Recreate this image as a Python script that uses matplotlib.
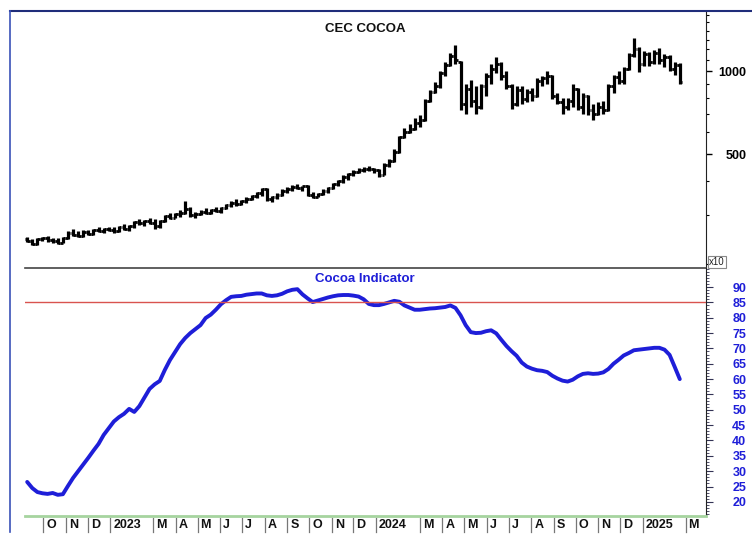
import matplotlib
matplotlib.use('Agg')
import matplotlib.pyplot as plt
import matplotlib.dates as mdates
import matplotlib.transforms as mtrans
from matplotlib.lines import Line2D
from matplotlib.ticker import FixedLocator, FixedFormatter, NullFormatter, MultipleLocator
import pandas as pd

plt.rcParams['font.family'] = ['Liberation Sans', 'DejaVu Sans']

# weekly bars, values in x10 units
weeks = pd.date_range('2022-09-09', periods=129, freq='W-FRI')

opens = [246, 242, 236, 246, 248, 244, 241, 238, 248, 258, 255, 253, 261, 257, 265, 263, 267,
         264, 262, 271, 268, 274, 283, 280, 285, 282, 274, 286, 297, 294, 302, 306, 316, 300,
         304, 309, 306, 313, 311, 319, 327, 332, 329, 337, 344, 352, 360, 372, 342, 348, 356,
         366, 374, 380, 376, 382, 356, 350, 358, 368, 376, 388, 398, 412, 422, 432, 438, 442,
         440, 436, 420, 458, 470, 510, 575, 600, 615, 650, 665, 780, 840, 880, 980, 1050, 1130,
         1080, 760, 860, 780, 740, 880, 960, 1020, 1060, 960, 880, 760, 850, 790, 840, 810, 920,
         940, 960, 810, 770, 740, 780, 860, 740, 810, 720, 700, 740, 720, 880, 950, 920, 1020,
         1140, 1200, 1060, 1150, 1080, 1160, 1100, 1120, 1020, 1050]
highs = [250, 246, 248, 251, 252, 248, 247, 250, 262, 268, 262, 264, 266, 268, 272, 270, 272,
         272, 275, 278, 276, 286, 290, 288, 292, 290, 288, 300, 305, 306, 312, 338, 320, 308,
         312, 318, 316, 320, 322, 330, 338, 342, 340, 348, 356, 364, 378, 376, 352, 362, 372,
         380, 386, 390, 384, 386, 364, 362, 372, 380, 392, 402, 418, 428, 438, 446, 448, 452,
         446, 440, 462, 478, 520, 580, 622, 640, 675, 690, 790, 850, 910, 1000, 1080, 1160, 1240,
         1090, 900, 930, 880, 900, 985, 1060, 1125, 1080, 1000, 900, 880, 880, 860, 870, 940,
         960, 1000, 965, 830, 800, 800, 900, 870, 830, 820, 760, 770, 780, 900, 970, 1000, 1035,
         1160, 1317, 1220, 1180, 1170, 1190, 1210, 1150, 1140, 1080, 1070]
lows = [240, 233, 234, 242, 240, 238, 236, 237, 246, 252, 250, 251, 254, 255, 260, 258, 262,
        258, 260, 265, 262, 270, 276, 274, 278, 268, 270, 284, 290, 292, 296, 304, 296, 294,
        300, 304, 302, 308, 306, 316, 322, 324, 326, 332, 340, 346, 352, 338, 334, 344, 352,
        362, 368, 372, 366, 352, 346, 348, 354, 362, 372, 382, 394, 404, 416, 426, 430, 434,
        428, 412, 418, 450, 466, 505, 570, 595, 610, 625, 660, 770, 835, 870, 960, 1040, 1060,
        720, 700, 740, 700, 730, 810, 900, 980, 930, 860, 730, 745, 760, 770, 780, 805,
        880, 900, 790, 760, 700, 720, 740, 720, 700, 690, 664, 690, 700, 715, 830, 900, 900,
        1010, 1120, 990, 1040, 1040, 1060, 1060, 1035, 1000, 970, 900]
closes = [242, 236, 246, 248, 244, 241, 238, 248, 258, 255, 253, 261, 257, 265, 263, 267, 264,
          262, 271, 268, 274, 283, 280, 285, 282, 274, 286, 297, 294, 302, 306, 316, 300, 304,
          309, 306, 313, 311, 319, 327, 332, 329, 337, 344, 352, 360, 372, 342, 348, 356, 366,
          374, 380, 376, 382, 356, 350, 358, 368, 376, 388, 398, 412, 422, 432, 438, 442, 440,
          436, 420, 458, 470, 510, 575, 600, 615, 650, 665, 780, 840, 880, 980, 1050, 1130, 1100,
          760, 860, 780, 740, 880, 960, 1020, 1060, 960, 880, 760, 850, 790, 840, 810, 920,
          940, 960, 810, 770, 740, 780, 860, 740, 810, 720, 700, 740, 720, 880, 950, 920, 1020,
          1140, 1200, 1060, 1150, 1080, 1160, 1100, 1120, 1020, 1050, 910]

indicator = [26.5, 24.5, 23.2, 22.8, 22.6, 22.9, 22.3, 22.5, 25.2, 27.8, 30.0, 32.2, 34.4, 36.7,
             38.9, 41.8, 44.0, 46.2, 47.6, 48.7, 50.3, 49.3, 51.2, 54.0, 56.8, 58.3, 59.4, 63.0,
             66.2, 68.8, 71.4, 73.4, 75.0, 76.3, 77.6, 79.9, 81.0, 82.6, 84.4, 85.7, 86.8, 87.0,
             87.1, 87.5, 87.7, 87.9, 87.9, 87.3, 87.1, 87.3, 87.8, 88.6, 89.1, 89.3, 87.6, 86.3,
             85.1, 85.6, 86.1, 86.6, 87.0, 87.3, 87.4, 87.4, 87.2, 86.9, 86.0, 84.5, 84.1, 84.1,
             84.5, 85.0, 85.5, 85.2, 84.0, 83.3, 82.6, 82.6, 82.8, 83.0, 83.1, 83.3, 83.5, 84.0,
             83.2, 80.8, 77.6, 75.3, 75.0, 75.1, 75.6, 75.9, 74.9, 72.8, 70.8, 69.1, 67.6, 65.4,
             64.1, 63.4, 62.9, 62.7, 62.3, 61.1, 60.2, 59.5, 59.2, 59.8, 60.9, 61.7, 61.9, 61.7,
             61.8, 62.2, 63.3, 65.0, 66.3, 67.7, 68.5, 69.4, 69.6, 69.8, 70.0, 70.2, 70.2, 69.6,
             67.9, 64.0, 60.0]
threshold = 85

month_ticks = pd.to_datetime(['2022-10-01', '2022-11-01', '2022-12-01', '2023-01-01', '2023-03-01',
                              '2023-04-01', '2023-05-01', '2023-06-01', '2023-07-01', '2023-08-01',
                              '2023-09-01', '2023-10-01', '2023-11-01', '2023-12-01', '2024-01-01',
                              '2024-03-01', '2024-04-01', '2024-05-01', '2024-06-01', '2024-07-01',
                              '2024-08-01', '2024-09-01', '2024-10-01', '2024-11-01', '2024-12-01',
                              '2025-01-01', '2025-03-01'])
month_labels = ['O', 'N', 'D', '2023', 'M', 'A', 'M', 'J', 'J', 'A', 'S', 'O', 'N', 'D', '2024',
                'M', 'A', 'M', 'J', 'J', 'A', 'S', 'O', 'N', 'D', '2025', 'M']

price_major = [500, 1000]
price_minor = [200, 300, 400, 600, 700, 800, 900, 1100, 1200, 1300, 1400, 1500, 1600]

BLUE = '#1e1ed8'
W, H = 752, 536
fig = plt.figure(figsize=(W / 100, H / 100), dpi=100)
ax1 = fig.add_axes([25 / W, 1 - 268 / H, 681 / W, 257 / H])
ax2 = fig.add_axes([25 / W, 1 - 516 / H, 681 / W, 248 / H], sharex=ax1)
ax2.patch.set_visible(False)

# price bars
x = mdates.date2num(weeks)
ax1.vlines(x, lows, highs, color='black', lw=2.3)
ax1.hlines(opens, x - 3.4, x, color='black', lw=2)
ax1.hlines(closes, x, x + 3.4, color='black', lw=2)
ax1.set_yscale('log')
ax1.set_ylim(193, 1651)
ax1.set_xlim(pd.Timestamp('2022-09-06'), pd.Timestamp('2025-03-29'))
ax1.yaxis.set_major_locator(FixedLocator(price_major))
ax1.yaxis.set_minor_locator(FixedLocator(price_minor))
ax1.yaxis.set_major_formatter(FixedFormatter([str(v) for v in price_major]))
ax1.yaxis.set_minor_formatter(NullFormatter())
ax1.yaxis.tick_right()
ax1.tick_params(axis='y', which='major', length=4, width=1, pad=25, labelsize=9)
ax1.tick_params(axis='y', which='minor', length=2.5, width=0.8)
for lab in ax1.get_yticklabels():
    lab.set_fontweight('bold')
    lab.set_ha('right')

# indicator
ax2.plot(weeks, indicator, color=BLUE, lw=2.8, solid_joinstyle='round', solid_capstyle='round')
ax2.axhline(threshold, color='#d9534f', lw=1)
ax2.set_ylim(15.4, 96.2)
ax2.yaxis.set_minor_locator(MultipleLocator(1))
ax2.set_yticks(range(20, 95, 5))
ax2.yaxis.tick_right()
ax2.tick_params(axis='y', which='major', length=5, width=0.8, pad=24, labelsize=9,
                labelcolor=BLUE, color='#333355')
ax2.tick_params(axis='y', which='minor', length=2.5, width=0.6, color='#333355')
for lab in ax2.get_yticklabels():
    lab.set_fontweight('bold')
    lab.set_ha('right')

for ax in (ax1, ax2):
    ax.tick_params(axis='x', which='both', bottom=False, labelbottom=False)
    ax.spines['left'].set_visible(False)
    ax.spines['top'].set_visible(False)
    ax.spines['right'].set_color('#222222')
ax1.spines['bottom'].set_color('#444444')
ax1.spines['bottom'].set_linewidth(1.2)
ax2.spines['bottom'].set_color('#a6d49f')
ax2.spines['bottom'].set_linewidth(2)

# month labels under the lower panel
trans = mtrans.blended_transform_factory(ax2.transData, ax2.transAxes)
text_trans = mtrans.offset_copy(trans, fig=fig, x=3, y=0, units='dots')
for d, lab in zip(month_ticks, month_labels):
    ax2.plot([d, d], [-0.01, -0.065], transform=trans, color='#777777', lw=0.9, clip_on=False)
    ax2.text(d, -0.037, lab, transform=text_trans, ha='left', va='center', fontsize=9,
             fontweight='bold', color='#111111')

fig.text(365 / W, 1 - 29 / H, 'CEC COCOA', ha='center', va='center', fontsize=9.5,
         fontweight='bold', color='#111111')
fig.text(365 / W, 1 - 279 / H, 'Cocoa Indicator', ha='center', va='center', fontsize=9.5,
         fontweight='bold', color=BLUE)
fig.text(709 / W, 1 - 262 / H, 'x10', ha='left', va='center', fontsize=7, color='#222222',
         bbox=dict(boxstyle='square,pad=0.12', fc='white', ec='#888888', lw=0.8))

# outer frame lines
fig.add_artist(Line2D([10 / W, 1], [1 - 11 / H, 1 - 11 / H], color='#1f2d7a', lw=1.5))
fig.add_artist(Line2D([10 / W, 10 / W], [1 - 11 / H, 1 - 532 / H], color='#3a52b8', lw=1.2))

fig.savefig('out.png', dpi=100)
